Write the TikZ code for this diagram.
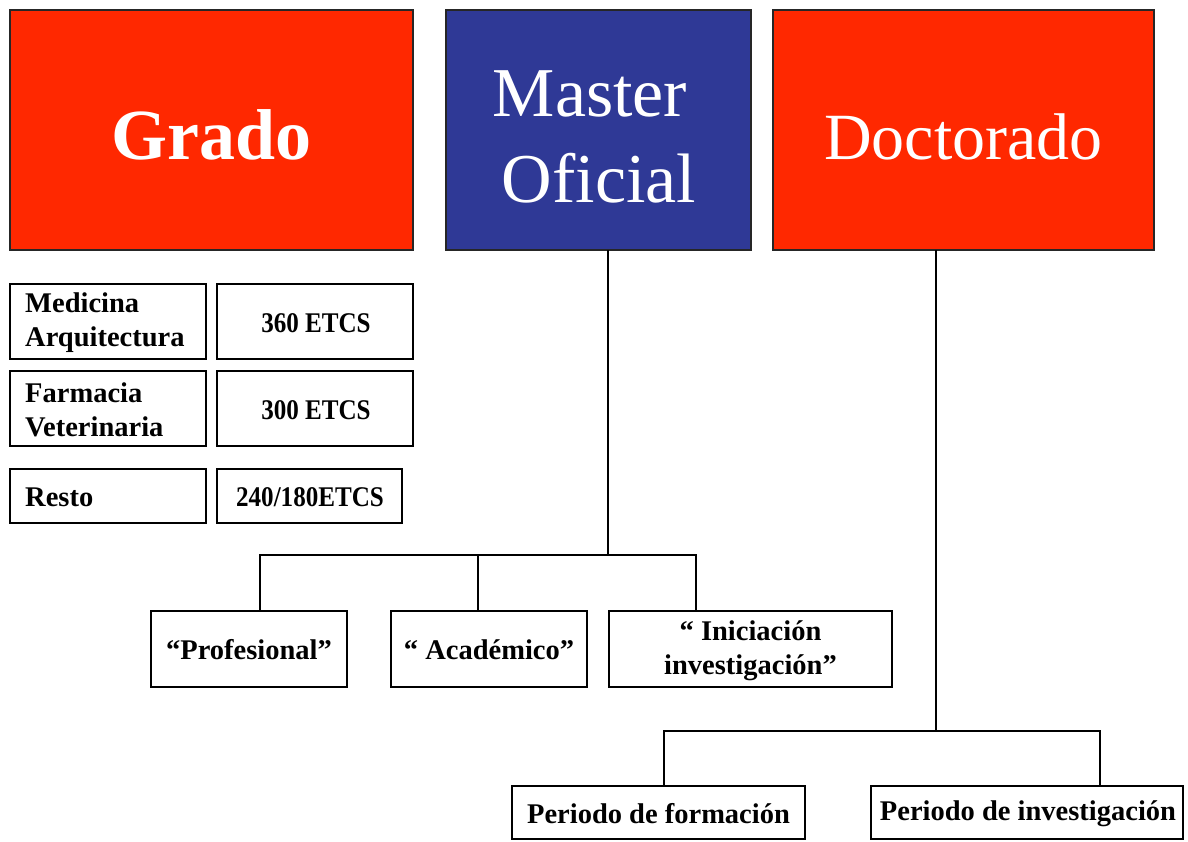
\documentclass[tikz,border=0pt]{standalone}
\usepackage{fontspec}
\setmainfont{Liberation Serif}
\newfontfamily\narrowserif[FakeStretch=0.88]{Liberation Serif}
\definecolor{bred}{HTML}{FF2800}
\definecolor{bblue}{HTML}{2F3996}
\begin{document}
\begin{tikzpicture}[x=1pt,y=-1pt,
  big/.style={draw=black!85,line width=1.2pt,inner sep=0pt},
  wbox/.style={draw=black,line width=1.5pt,fill=white},
  lbl/.style={font=\bfseries\fontsize{28.5}{34}\selectfont,align=center,inner sep=0pt},
  ects/.style={font=\narrowserif\bfseries\fontsize{28.5}{34}\selectfont,align=center,inner sep=0pt},
  lbll/.style={font=\bfseries\fontsize{28.5}{34}\selectfont,align=left,inner sep=0pt,anchor=west},
  conn/.style={draw=black,line width=1.3pt}]
\useasboundingbox (0,0) rectangle (1188,841);
% top boxes
\path[big,fill=bred] (10,10) rectangle (413,250);
\node[text=white,font=\bfseries\fontsize{72}{80}\selectfont] (grado) at (211.5,135) {Grado};
\path[big,fill=bblue] (446,10) rectangle (751,250);
\node[align=center,text=white,font=\fontsize{70}{86}\selectfont] (master) at (590,137) {Master\\\hspace*{18pt}Oficial};
\path[big,fill=bred] (773,10) rectangle (1154,250);
\node[text=white,font=\fontsize{66}{80}\selectfont] (doct) at (963.5,137) {Doctorado};
\coordinate (mtop) at (608,250);
\coordinate (dtop) at (936,250);
% grado list
\draw[wbox] (10,284) rectangle (206,359);
\node[lbll] (med) at (25,323) {Medicina\\Arquitectura};
\draw[wbox] (217,284) rectangle (413,359);
\node[ects] (e360) at (316,323) {360 ETCS};
\draw[wbox] (10,371) rectangle (206,446);
\node[lbll] (far) at (25,410) {Farmacia\\Veterinaria};
\draw[wbox] (217,371) rectangle (413,446);
\node[ects] (e300) at (316,410) {300 ETCS};
\draw[wbox] (10,469) rectangle (206,523);
\node[lbll] (resto) at (25,497) {Resto};
\draw[wbox] (217,469) rectangle (402,523);
\node[ects] (e240) at (310,497) {240/180ETCS};
% master children
\draw[wbox] (151,611) rectangle (347,687);
\node[lbl] (prof) at (249,650) {“Profesional”};
\draw[wbox] (391,611) rectangle (587,687);
\node[lbl] (acad) at (489,650) {“ Académico”};
\draw[wbox] (609,611) rectangle (892,687);
\node[lbl] (inic) at (750.5,651) {“ Iniciación\\investigación”};
\coordinate (p1) at (260,611);
\coordinate (p2) at (478,611);
\coordinate (p3) at (696,611);
\draw[conn] (mtop) -- (608,555);
\draw[conn] (p1) -- (260,555) -- (696,555) -- (p3);
\draw[conn] (p2) -- (478,555);
% doctorado children
\draw[wbox] (512,786) rectangle (805,839);
\node[lbl] (form) at (658.5,814) {Periodo de formación};
\draw[wbox] (871,786) rectangle (1183,839);
\node[lbl] (inv) at (1028,814) {Periodo de investigación};
\coordinate (q1) at (664,786);
\coordinate (q2) at (1100,786);
\draw[conn] (dtop) -- (936,731);
\draw[conn] (q1) -- (664,731) -- (1100,731) -- (q2);
\end{tikzpicture}
\end{document}
